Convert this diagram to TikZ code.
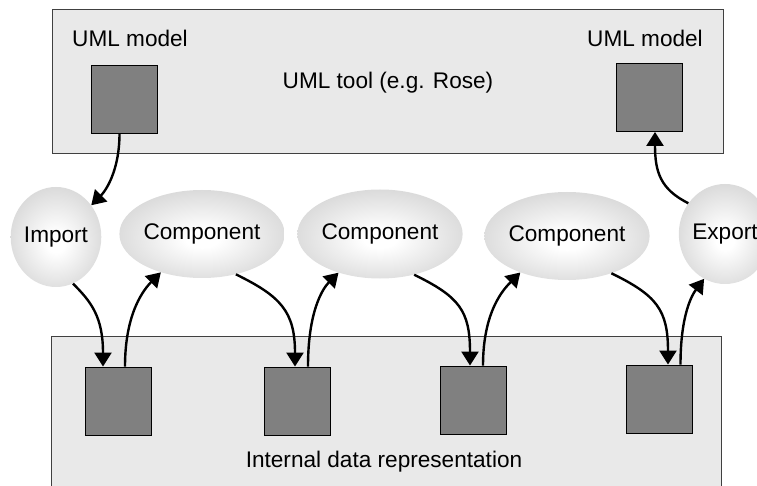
\documentclass[tikz,border=0pt]{standalone}
\usepackage{fontspec}
\setmainfont{Liberation Sans}
\usetikzlibrary{arrows.meta,shapes.geometric,calc}

% soft highlight for the process ellipses
\pgfdeclareradialshading{ballshade}{\pgfpoint{0bp}{-3bp}}{%
  color(0bp)=(white); color(5bp)=(white); color(50bp)=(black!30)}

\definecolor{panelfill}{HTML}{E9E9E9}
\definecolor{panelline}{HTML}{404040}
\definecolor{blockfill}{HTML}{808080}

\tikzset{
  panel/.style={draw=panelline, line width=0.9pt, fill=panelfill, inner sep=0pt},
  block/.style={draw=black, line width=0.9pt, fill=blockfill, inner sep=0pt,
                minimum width=66pt, minimum height=68pt},
  proc/.style={ellipse, shading=ballshade, inner sep=0pt,
               font=\fontsize{22.6}{27}\selectfont},
  lbl/.style={font=\fontsize{22.6}{27}\selectfont, inner sep=0pt},
  flow/.style={line width=2.4pt, -{Triangle[length=14pt,width=17pt]}},
}

\begin{document}
\begin{tikzpicture}[x=1pt, y=-1pt]
  \useasboundingbox (0,0) rectangle (757,486);
  \clip (0,0) rectangle (757,486);

  % tool panel and repository panel
  \node[panel, minimum width=671pt, minimum height=144pt] (tool) at (387.5,81) {};
  \node[panel, minimum width=670pt, minimum height=190pt] (store) at (386,431) {};

  \node[lbl] (tooltxt) at (388,83) {UML tool (e.g. Rose)};
  \node[lbl] (storetxt) at (384,462) {Internal data representation};
  \node[lbl] (modA) at (130,38) {UML model};
  \node[lbl] (modB) at (645,38) {UML model};

  % model blocks
  \node[block] (umlA) at (124.5,99) {};
  \node[block] (umlB) at (649,97.5) {};

  % data blocks
  \node[block] (d1) at (118,401) {};
  \node[block] (d2) at (297,401) {};
  \node[block] (d3) at (473,400) {};
  \node[block] (d4) at (659.5,399) {};

  % processing steps
  \node[proc, minimum width=88pt, minimum height=100pt] (imp) at (56,237) {Import};
  \node[proc, minimum width=132pt, minimum height=88pt] (c1) at (202,234) {Component};
  \node[proc, minimum width=135pt, minimum height=89pt] (c2) at (380,234) {Component};
  \node[proc, minimum width=134pt, minimum height=88pt] (c3) at (567,236) {Component};
  \node[proc, minimum width=90pt, minimum height=100pt] (exp) at (725,234) {Export};

  % data flow
  \draw[flow] ([xshift=-5pt]umlA.south) .. controls +(0,38) and +(14,-14) .. (imp.42);
  \draw[flow] (imp.-70) .. controls +(18,18) and +(0,-50) .. ([xshift=-15pt]d1.north);
  \draw[flow] ([xshift=7pt]d1.north) .. controls +(0,-55) and +(-16,16) .. (c1.-137);
  \draw[flow] (c1.-50) .. controls +(45,22) and +(0,-55) .. ([xshift=-2pt]d2.north);
  \draw[flow] ([xshift=11pt]d2.north) .. controls +(0,-55) and +(-16,16) .. (c2.-137);
  \draw[flow] (c2.-50) .. controls +(45,22) and +(0,-55) .. ([xshift=-3pt]d3.north);
  \draw[flow] ([xshift=10pt]d3.north) .. controls +(0,-55) and +(-16,16) .. (c3.-142);
  \draw[flow] (c3.-40) .. controls +(45,22) and +(0,-55) .. ([xshift=8.5pt]d4.north);
  \draw[flow] ([xshift=21pt]d4.north) .. controls +(0,-50) and +(-12,16) .. (exp.-115);
  \draw[flow] (exp.140) .. controls +(-28,-14) and +(0,40) .. ([xshift=6pt]umlB.south);
\end{tikzpicture}
\end{document}
